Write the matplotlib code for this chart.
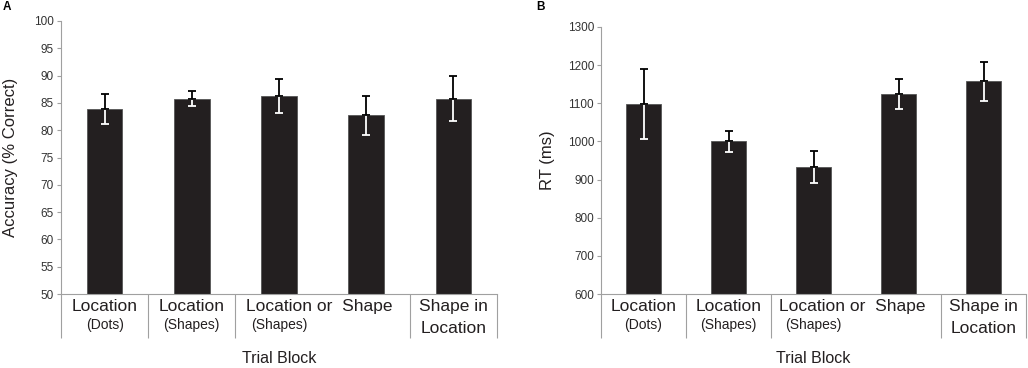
import matplotlib.pyplot as plt
import matplotlib.transforms as mtransforms

plt.rcParams['font.family'] = ['Liberation Sans', 'DejaVu Sans']

# Data
blocks = ["Location (Dots)", "Location (Shapes)", "Location or Shape (Shapes)",
          "Shape", "Shape in Location"]
accuracy = [83.9, 85.8, 86.3, 82.7, 85.8]
accuracy_err = [2.8, 1.4, 3.1, 3.6, 4.1]
rt = [1097, 1000, 934, 1124, 1157]
rt_err = [92, 28, 42, 40, 51]

bar_color = "#231f20"
axis_color = "#a0a0a0"
text_color = "#231f20"
px = 0.72  # points per pixel at dpi 100

fig = plt.figure(figsize=(10.28, 3.68), dpi=100)
ax_a = fig.add_axes([61 / 1028, 0.201, 436 / 1028, 0.742])
ax_b = fig.add_axes([601 / 1028, 0.201, 425 / 1028, 0.726])


def draw_panel(ax, values, errs, ylim, yticks, ylabel, label_x):
    x = list(range(len(values)))
    ax.bar(x, [v - ylim[0] for v in values], bottom=ylim[0], width=0.41,
           color=bar_color, edgecolor="#555555", linewidth=0.6, zorder=2)
    # lower half of the error bar is white (inside the bar), upper half black
    ax.errorbar(x, values, yerr=[errs, [0] * len(errs)], fmt="none",
                ecolor="white", elinewidth=1.3, capsize=3.2, capthick=1.3, zorder=3)
    ax.errorbar(x, values, yerr=[[0] * len(errs), errs], fmt="none",
                ecolor="black", elinewidth=1.3, capsize=3.2, capthick=1.3, zorder=4)

    ax.set_xlim(-0.5, len(values) - 0.5)
    ax.set_ylim(*ylim)
    ax.set_yticks(yticks)
    ax.tick_params(axis="y", length=3, width=0.8, color=axis_color,
                   labelsize=8.5, labelcolor="#333333", pad=2)
    # category dividers as long downward ticks (no divider between 3rd and 4th)
    ax.set_xticks([-0.5, 0.5, 1.5, 3.5, 4.5])
    ax.set_xticklabels([])
    ax.tick_params(axis="x", length=44 * px, width=0.8, color=axis_color)
    for side in ["top", "right"]:
        ax.spines[side].set_visible(False)
    for side in ["left", "bottom"]:
        ax.spines[side].set_color(axis_color)
        ax.spines[side].set_linewidth(0.8)

    ax.set_ylabel(ylabel, fontsize=12, color=text_color)
    ax.yaxis.set_label_coords(label_x, 0.5)

    trans = mtransforms.blended_transform_factory(ax.transData, ax.transAxes)

    def put(xpos, dy, txt, size):
        ax.annotate(txt, xy=(xpos, 0), xycoords=trans, xytext=(0, -dy * px),
                    textcoords="offset points", ha="center", va="center",
                    fontsize=size, color=text_color, annotation_clip=False)

    put(0, 12, "Location", 12.5)
    put(0, 31, "(Dots)", 10)
    put(1, 12, "Location", 12.5)
    put(1, 31, "(Shapes)", 10)
    put(2.46, 12, "Location or  Shape", 12.5)
    put(2, 31, "(Shapes)", 10)
    put(4, 12, "Shape in", 12.5)
    put(4, 34, "Location", 12.5)
    put(2, 64, "Trial Block", 11.5)


draw_panel(ax_a, accuracy, accuracy_err, (50, 100), list(range(50, 101, 5)),
           "Accuracy (% Correct)", -0.099)
draw_panel(ax_b, rt, rt_err, (600, 1300), list(range(600, 1301, 100)),
           "RT (ms)", -0.108)

fig.text(3 / 1028, 1 - 7 / 368, "A", fontsize=8.5, fontweight="bold",
         ha="left", va="center")
fig.text(536 / 1028, 1 - 7 / 368, "B", fontsize=8.5, fontweight="bold",
         ha="left", va="center")

fig.savefig("out.png", dpi=100)
